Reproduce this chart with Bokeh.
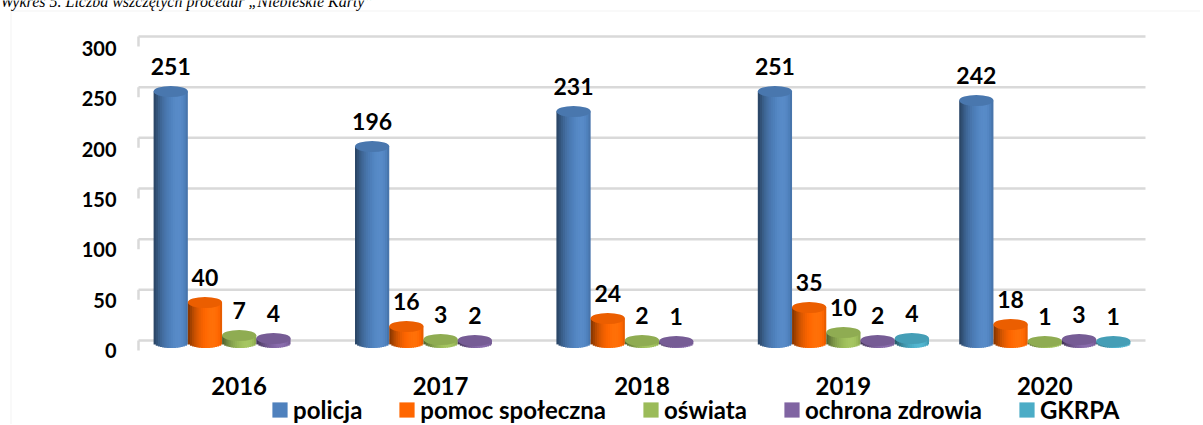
import math
from bokeh.plotting import figure
from bokeh.models import (Range1d, LinearAxis, FixedTicker, Legend, LegendItem,
                          ColumnDataSource, Label, BoxAnnotation)
from bokeh.core.properties import value
from bokeh.embed import file_html
from bokeh.resources import INLINE

# ---------------- data ----------------
title_text = "Wykres 5. Liczba wszczętych procedur „Niebieskie Karty”"
years = ["2016", "2017", "2018", "2019", "2020"]
series_names = ["policja", "pomoc społeczna", "oświata", "ochrona zdrowia", "GKRPA"]
series_colors = ["#4F81BD", "#FF6600", "#9BBB59", "#8064A2", "#4BACC6"]
policja = [251, 196, 231, 251, 242]
pomoc_spoleczna = [40, 16, 24, 35, 18]
oswiata = [7, 3, 2, 10, 1]
ochrona_zdrowia = [4, 2, 1, 2, 3]
gkrpa = [None, None, None, 4, 1]
y_ticks = [0, 50, 100, 150, 200, 250, 300]
series_values = [policja, pomoc_spoleczna, oswiata, ochrona_zdrowia, gkrpa]

# ---------------- style ----------------
FONT = "Lato"
W, H = 1200, 424
X0, X1 = -1.1852, 4.7731          # x range (category units)
UX = W / (X1 - X0)                # px per category unit
Y_FLOOR_PX = 342                  # screen row of value 0 (front plane)
BAR_W = 0.17
CAP_H = 11                        # cylinder cap height in px
N_STRIPS = 16
GRID_COLOR = "#d9d9d9"
GRID_SCALE = 1.01333              # back wall is drawn slightly larger
GRID_SHIFT = 2                    # back wall floor sits 2px above the front floor
year_pos = list(range(len(years)))


def hex_to_rgb(h):
    h = h.lstrip("#")
    return [int(h[i:i + 2], 16) for i in (0, 2, 4)]


def shade(h, b):
    out = []
    for c in hex_to_rgb(h):
        if b <= 1:
            v = c * b
        else:
            v = c * b + (255 - c * b) * (b - 1) * 0.6
        out.append(max(0, min(255, int(round(v)))))
    return "#%02x%02x%02x" % tuple(out)


def brightness(u):
    th = math.asin(max(-1.0, min(1.0, u)))
    return 0.55 + 0.5 * max(0.0, math.cos(th - 0.45))


p = figure(width=W, height=H,
           x_range=Range1d(X0, X1), y_range=Range1d(-(H - Y_FLOOR_PX), Y_FLOOR_PX),
           output_backend="svg", toolbar_location=None,
           x_axis_location=None, y_axis_location=None,
           min_border_left=0, min_border_right=0, min_border_top=0, min_border_bottom=0)
p.extra_y_ranges = {"axis": Range1d(-(H - 350) / 1.00667, 350 / 1.00667)}
p.outline_line_color = None
p.xgrid.visible = False
p.ygrid.visible = False
p.background_fill_color = "white"
p.border_fill_color = "white"

# x axis (years) on the floor line
xax = LinearAxis(ticker=FixedTicker(ticks=year_pos),
                 major_label_overrides={i: y for i, y in zip(year_pos, years)},
                 fixed_location=0, axis_line_color=None, major_tick_line_color=None,
                 minor_tick_line_color=None, major_tick_out=0, major_tick_in=0,
                 major_label_standoff=34, major_label_text_font=FONT,
                 major_label_text_font_style="bold", major_label_text_font_size="24px",
                 major_label_text_color="black")
p.add_layout(xax, "below")

# y axis (front plane)
x_left = year_pos[0] - 0.5
x_right = year_pos[-1] + 0.5
yax = LinearAxis(y_range_name="axis", ticker=FixedTicker(ticks=y_ticks),
                 fixed_location=x_left, axis_line_color=None, major_tick_line_color=None,
                 minor_tick_line_color=None, major_tick_out=0, major_tick_in=0,
                 major_label_standoff=22, major_label_text_font=FONT,
                 major_label_text_font_style="bold", major_label_text_font_size="20px",
                 major_label_text_color="black")
p.add_layout(yax, "left")

# back-wall grid with side-wall edge ticks
grid_y = [GRID_SHIFT + GRID_SCALE * t for t in y_ticks]
p.segment(x0=[x_left] * len(grid_y), x1=[x_right] * len(grid_y), y0=grid_y, y1=grid_y,
          line_color=GRID_COLOR, line_width=2.5)
p.segment(x0=[x_left] * len(grid_y), x1=[x_left] * len(grid_y), y0=grid_y,
          y1=[g - 10 for g in grid_y], line_color=GRID_COLOR, line_width=2.5)

# cylinders
legend_items = []
e = CAP_H / 2.0
sw = BAR_W / N_STRIPS
for s_idx, (name, col, vals) in enumerate(zip(series_names, series_colors, series_values)):
    off = (s_idx - 2) * BAR_W
    xs, tops, bottoms, widths, fills = [], [], [], [], []
    cap_x, cap_y = [], []
    lab_t = []
    for xp, v in zip(year_pos, vals):
        if v is None:
            continue
        for k in range(N_STRIPS):
            l = -BAR_W / 2 + k * sw
            r = l + sw + (sw * 0.6 if k < N_STRIPS - 1 else 0)
            u = (l + sw / 2) / (BAR_W / 2)
            xs.append(xp + off + (l + r) / 2)
            widths.append(r - l)
            tops.append(v)
            bottoms.append(-e * math.sqrt(max(0.0, 1 - u * u)))
            fills.append(shade(col, brightness(u)))
        cap_x.append(xp + off)
        cap_y.append(v)
        lab_t.append(str(v))
    src = ColumnDataSource(dict(x=xs, top=tops, bottom=bottoms, w=widths, color=fills))
    p.vbar(x="x", top="top", bottom="bottom", width="w", fill_color="color",
           line_color=None, source=src)
    p.ellipse(x=cap_x, y=cap_y, width=BAR_W, height=CAP_H, height_units="screen",
              fill_color=shade(col, 0.92), line_color=None)
    p.text(x=cap_x, y=cap_y, text=lab_t, text_align="center", text_baseline="middle",
           y_offset=-25, text_font=value(FONT), text_font_style="bold",
           text_font_size="23px", text_color="black")
    # zero-height swatch renderer used only for the legend square
    swatch = p.vbar(x=[cap_x[0]], top=[0], bottom=[0], width=0.001,
                    fill_color=col, line_color=None)
    legend_items.append(LegendItem(label=name, renderers=[swatch]))

legend = Legend(items=legend_items, orientation="horizontal", location=(270, 0),
                glyph_width=19, glyph_height=19, label_standoff=4, spacing=35,
                padding=0, margin=0, border_line_color=None, background_fill_alpha=0,
                label_text_font=FONT, label_text_font_style="bold",
                label_text_font_size="24px", label_text_color="black")
p.add_layout(legend)

# chart-area frame (light grey box) and the cut-off caption above it
p.add_layout(BoxAnnotation(left=X0 + 10.5 / UX, right=X1 + 1,
                           top=Y_FLOOR_PX - 10.5, bottom=-(H - Y_FLOOR_PX) - 10,
                           fill_alpha=0, line_color="#d4d4d4", line_width=1))
p.add_layout(Label(x=0, y=Y_FLOOR_PX - 1, x_units="screen", y_units="data",
                   text=title_text, text_font="Liberation Serif",
                   text_font_style="italic", text_font_size="16px",
                   text_baseline="alphabetic", text_color="black"))

open("out.html", "w").write(file_html(p, INLINE))
